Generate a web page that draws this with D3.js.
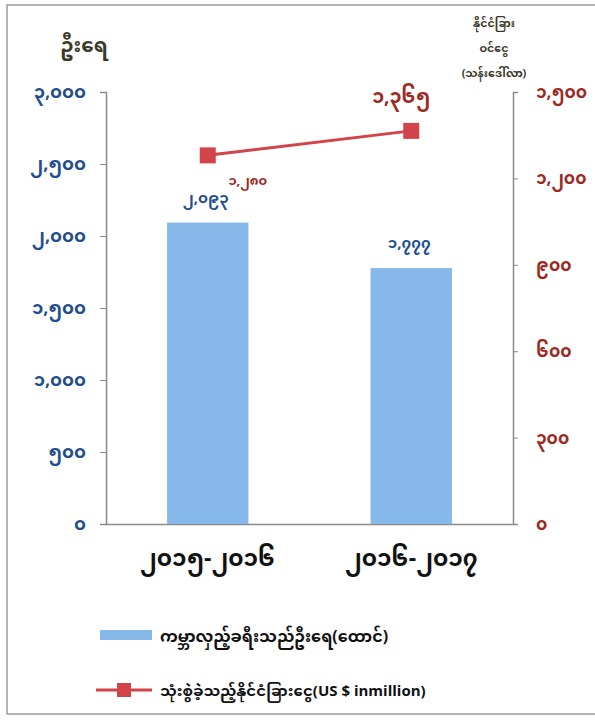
<!DOCTYPE html>
<html>
<head>
<meta charset="utf-8">
<script src="https://cdn.jsdelivr.net/npm/d3@7"></script>
<style>
  html, body { margin: 0; padding: 0; background: #fff; }
  svg { display: block; }
  text { font-family: "Noto Sans Myanmar", "Padauk", "Myanmar Text", "Noto Sans", "DejaVu Sans", sans-serif; }
</style>
</head>
<body>
<svg id="chart" width="595" height="720"></svg>
<script>
// ---- data ----
const categories = ["၂၀၁၅-၂၀၁၆", "၂၀၁၆-၂၀၁၇"];
const categoryLabels = ["၂၀၁၅-၂၀၁၆", "၂၀၁၆-၂၀၁၇"];
const touristValues = [2093, 1777];            // thousand persons (bars)
const touristLabels = ["၂,၀၉၃", "၁,၇၇၇"];
const spendingValues = [1280, 1365];           // US $ million (line)
const spendingLabels = ["၁,၂၈၀", "၁,၃၆၅"];
const leftTicks = [0, 500, 1000, 1500, 2000, 2500, 3000];
const leftTickLabels = ["၀", "၅၀၀", "၁,၀၀၀", "၁,၅၀၀", "၂,၀၀၀", "၂,၅၀၀", "၃,၀၀၀"];
const rightTicks = [0, 300, 600, 900, 1200, 1500];
const rightTickLabels = ["၀", "၃၀၀", "၆၀၀", "၉၀၀", "၁,၂၀၀", "၁,၅၀၀"];
const leftTitle = "ဦးရေ";
const rightTitle = ["နိုင်ငံခြား", "ဝင်ငွေ", "(သန်းဒေါ်လာ)"];
const legendBar = "ကမ္ဘာလှည့်ခရီးသည်ဦးရေ(ထောင်)";
const legendLine = "သုံးစွဲခဲ့သည့်နိုင်ငံခြားငွေ(US $ inmillion)";

// ---- layout ----
const svg = d3.select("#chart");
const plot = { left: 106, right: 513, top: 92, bottom: 524 };
const blue = "#86b9ea", blueDark = "#1f4f8f", red = "#d2434a", redText = "#9c2a1f", titleCol = "#3b3a2a";

// frame
svg.append("rect").attr("x", 7).attr("y", 5).attr("width", 600).attr("height", 709)
  .attr("fill", "none").attr("stroke", "#9a9a9a").attr("stroke-width", 1.5);

const x = d3.scaleBand().domain(categories).range([plot.left, plot.right]).paddingInner(0.6).paddingOuter(0.3);
const yL = d3.scaleLinear().domain([0, 3000]).range([plot.bottom, plot.top]);
const yR = d3.scaleLinear().domain([0, 1500]).range([plot.bottom, plot.top]);
const cx = d => x(d) + x.bandwidth() / 2;

// left axis
const gL = svg.append("g").attr("transform", `translate(${plot.left},0)`)
  .call(d3.axisLeft(yL).tickValues(leftTicks).tickSize(6).tickPadding(14)
    .tickFormat((d, i) => leftTickLabels[i]));
gL.select(".domain").attr("stroke", "#8a8a8a").attr("stroke-width", 1.5);
gL.selectAll(".tick line").attr("stroke", "#8a8a8a");
gL.selectAll(".tick text").attr("fill", blueDark).attr("font-size", 18).attr("font-weight", "bold");

// right axis
const gR = svg.append("g").attr("transform", `translate(${plot.right},0)`)
  .call(d3.axisRight(yR).tickValues(rightTicks).tickSize(5).tickPadding(18)
    .tickFormat((d, i) => rightTickLabels[i]));
gR.select(".domain").attr("stroke", "#8a8a8a").attr("stroke-width", 1.5);
gR.selectAll(".tick line").attr("stroke", "#8a8a8a");
gR.selectAll(".tick text").attr("fill", redText).attr("font-size", 17).attr("font-weight", "bold");

// bottom axis
const gB = svg.append("g").attr("transform", `translate(0,${plot.bottom})`)
  .call(d3.axisBottom(x).tickSize(0).tickPadding(26).tickFormat((d, i) => categoryLabels[i]));
gB.select(".domain").attr("stroke", "#8a8a8a").attr("stroke-width", 1.5);
gB.selectAll(".tick text").attr("fill", "#111").attr("font-size", 23).attr("font-weight", "bold");

// bars
svg.selectAll("rect.bar").data(categories).enter().append("rect").attr("class", "bar")
  .attr("x", d => x(d)).attr("width", x.bandwidth())
  .attr("y", (d, i) => yL(touristValues[i]))
  .attr("height", (d, i) => plot.bottom - yL(touristValues[i]))
  .attr("fill", blue);

// bar labels
svg.selectAll("text.blab").data(categories).enter().append("text").attr("class", "blab")
  .attr("x", d => cx(d) - 2).attr("y", (d, i) => yL(touristValues[i]) - 20)
  .attr("text-anchor", "middle").attr("fill", blueDark).attr("font-size", 15).attr("font-weight", "bold")
  .text((d, i) => touristLabels[i]);

// line
const line = d3.line().x((d, i) => cx(categories[i])).y(d => yR(d));
svg.append("path").datum(spendingValues).attr("d", line)
  .attr("fill", "none").attr("stroke", red).attr("stroke-width", 3);
svg.selectAll("rect.pt").data(spendingValues).enter().append("rect").attr("class", "pt")
  .attr("x", (d, i) => cx(categories[i]) - 8).attr("y", d => yR(d) - 8)
  .attr("width", 16).attr("height", 16).attr("fill", red);

// line labels
svg.append("text").attr("x", cx(categories[0]) + 40).attr("y", yR(spendingValues[0]) + 30)
  .attr("text-anchor", "middle").attr("fill", redText).attr("font-size", 13).attr("font-weight", "bold")
  .text(spendingLabels[0]);
svg.append("text").attr("x", cx(categories[1]) - 10).attr("y", yR(spendingValues[1]) - 28)
  .attr("text-anchor", "middle").attr("fill", redText).attr("font-size", 19).attr("font-weight", "bold")
  .text(spendingLabels[1]);

// axis titles
svg.append("text").attr("x", 84).attr("y", 52).attr("text-anchor", "middle")
  .attr("fill", titleCol).attr("font-size", 20).attr("font-weight", "bold").text(leftTitle);
svg.append("g").selectAll("text").data(rightTitle).enter().append("text")
  .attr("x", 494).attr("y", (d, i) => 27 + i * 25).attr("text-anchor", "middle")
  .attr("fill", titleCol).attr("font-size", 11).attr("font-weight", "bold").text(d => d);

// legend
const lg = svg.append("g");
lg.append("rect").attr("x", 100).attr("y", 630).attr("width", 52).attr("height", 10).attr("fill", blue);
lg.append("text").attr("x", 160).attr("y", 642).attr("fill", "#111").attr("font-size", 16).attr("font-weight", "bold").text(legendBar);
lg.append("line").attr("x1", 96).attr("x2", 152).attr("y1", 690).attr("y2", 690).attr("stroke", red).attr("stroke-width", 3);
lg.append("rect").attr("x", 117).attr("y", 683).attr("width", 14).attr("height", 14).attr("fill", red);
lg.append("text").attr("x", 160).attr("y", 696).attr("fill", "#111").attr("font-size", 15).attr("font-weight", "bold").text(legendLine);
</script>
</body>
</html>
